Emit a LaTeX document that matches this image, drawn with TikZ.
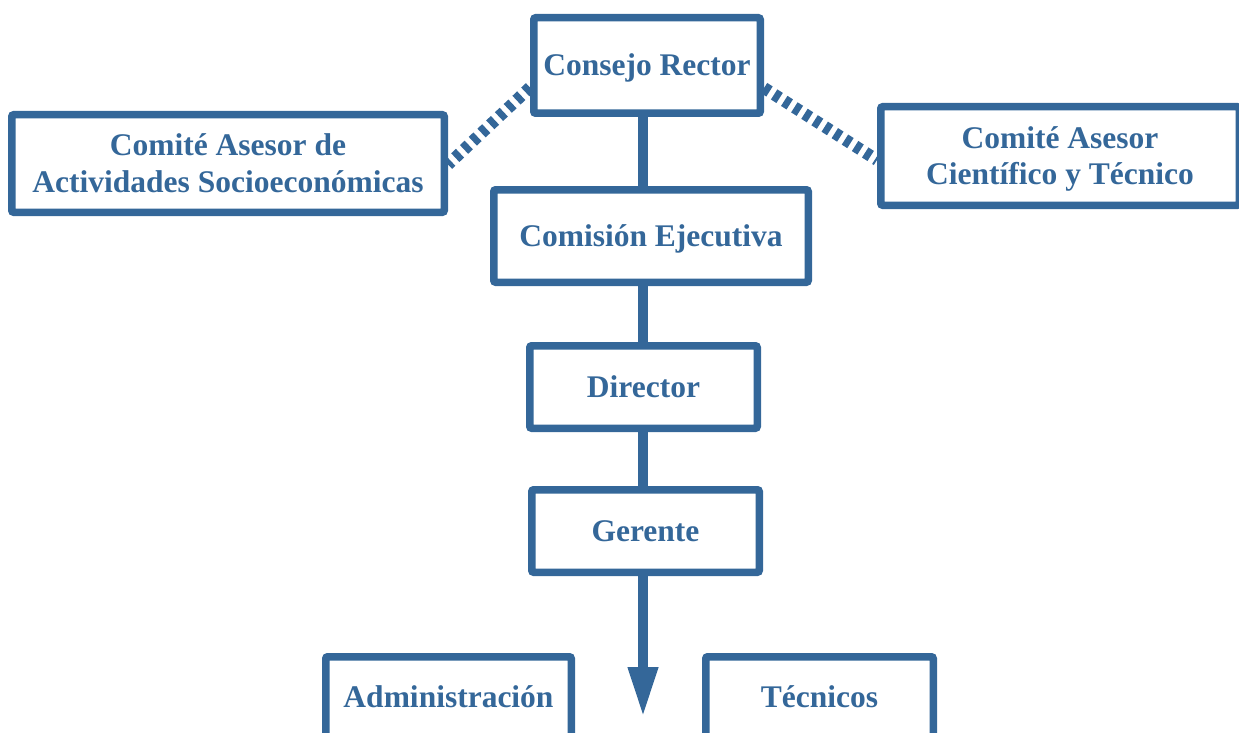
\documentclass[tikz,border=0pt]{standalone}
\usepackage{fontspec}
\setmainfont{Liberation Serif}
\usetikzlibrary{arrows.meta,calc,backgrounds}
\definecolor{orgblue}{RGB}{52,103,153}
\begin{document}
\begin{tikzpicture}[x=1pt,y=-1pt,
  box/.style={draw=orgblue, line width=7.5pt, fill=white, rounded corners=2pt,
    inner sep=0pt, text=orgblue, align=center,
    font=\fontsize{31.5}{36}\selectfont\bfseries},
  oneline/.style={text height=21pt, text depth=0pt},
  twoline/.style={text height=57pt, text depth=0pt},
  trunkline/.style={draw=orgblue, line width=10pt},
  advisory/.style={draw=orgblue, line width=12pt, dash pattern=on 6.5pt off 5.5pt},
]
\useasboundingbox (0,0) rectangle (1239,733);

% governing bodies
\node[box, oneline, minimum width=226.5pt, minimum height=95.5pt] (consejo) at (647,65.5) {Consejo Rector};
\node[box, twoline, minimum width=432.5pt, minimum height=97.5pt] (comL) at (228,163.5) {Comité Asesor de\\Actividades Socioeconómicas};
\node[box, twoline, minimum width=358.5pt, minimum height=98.5pt] (comR) at (1060,156) {Comité Asesor\\Científico y Técnico};
\node[box, oneline, minimum width=314.5pt, minimum height=92.5pt] (comision) at (651,236) {Comisión Ejecutiva};
\node[box, oneline, minimum width=227.5pt, minimum height=82.5pt] (director) at (643.5,387) {Director};
\node[box, oneline, minimum width=227.5pt, minimum height=82.5pt] (gerente) at (645.5,531) {Gerente};

% staff
\node[box, oneline, minimum width=245.5pt, minimum height=80.5pt] (admin) at (448.5,697) {Administración};
\node[box, oneline, minimum width=227.5pt, minimum height=80.5pt] (tecnicos) at (819.5,697) {Técnicos};

\coordinate (trunk) at (643,0);
\coordinate (tip) at (643,717);

\begin{scope}[on background layer]
  \draw[trunkline] (consejo.south -| trunk) -- (gerente.south -| trunk);
  \draw[advisory] ($(consejo.west)+(0,22)$) -- ($(comL.east)+(0,1)$);
  \draw[advisory] ($(consejo.east)+(0,22.5)$) -- ($(comR.west)+(0,4)$);
\end{scope}
\draw[trunkline, -{Triangle[length=50pt,width=28pt]}] (gerente.south -| trunk) -- (tip);
\end{tikzpicture}
\end{document}
